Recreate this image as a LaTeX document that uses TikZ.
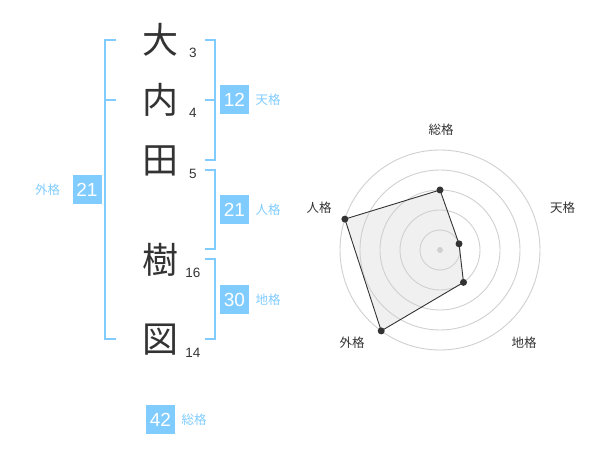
\documentclass[tikz,border=0pt]{standalone}
\usepackage{fontspec}
\setmainfont{Liberation Sans}
\newfontfamily\cjk{Noto Sans CJK JP}
\definecolor{kaku}{RGB}{128,204,255}
\definecolor{ink}{RGB}{51,51,51}
\definecolor{ring}{RGB}{208,208,208}
\definecolor{area}{RGB}{240,240,240}

\begin{document}
\begin{tikzpicture}[x=1pt,y=-1pt,line width=1.5pt,
 kanji/.style={font=\cjk\fontsize{36}{36}\selectfont,text=ink,inner sep=0pt},
 num/.style={font=\fontsize{13.5}{14}\selectfont,text=ink,inner sep=0pt},
 box/.style={fill=kaku,text=white,minimum size=29pt,inner sep=0pt,font=\fontsize{19}{19}\selectfont},
 lab/.style={font=\cjk\fontsize{12.5}{13}\selectfont,text=kaku,inner sep=0pt},
 axl/.style={font=\cjk\fontsize{12.5}{13}\selectfont,text=ink,inner sep=0pt}]
\useasboundingbox (0,0) rectangle (600,470);
\foreach \c/\n/\y [count=\i] in {大/3/40,内/4/100,田/5/161,樹/16/260,図/14/340}{
 \node[kanji] (k\i) at (160,\y) {\c};
 \node[num] (s\i) at (193,\y+13) {\n};};
\draw[color=kaku] (116,40)--(105,40)--(105,339)--(116,339) (105,100)--(116,100);
\draw[color=kaku] (205,40)--(215,40)--(215,160)--(205,160) (205,100)--(215,100);
\draw[color=kaku] (205,170)--(215,170)--(215,249)--(205,249);
\draw[color=kaku] (205,259)--(215,259)--(215,339)--(205,339);
\node[box] (gai) at (87,190) {21};
\node[lab,anchor=east] (gail) at ([xshift=-11pt]gai.west) {外格};
\node[box] (ten) at (234.5,100) {12};
\node[lab,anchor=west] (tenl) at ([xshift=5pt]ten.east) {天格};
\node[box] (jin) at (234.5,210) {21};
\node[lab,anchor=west] (jinl) at ([xshift=5pt]jin.east) {人格};
\node[box] (chi) at (234.5,300) {30};
\node[lab,anchor=west] (chil) at ([xshift=5pt]chi.east) {地格};
\node[box] (so) at (160.5,419.5) {42};
\node[lab,anchor=west] (sol) at ([xshift=5pt]so.east) {総格};
% radar
\coordinate (o) at (440,250);
\foreach \a/\r/\t/\lx/\ly [count=\i] in {-90/60/総格/441/130,-18/20/天格/562.5/208,54/40/地格/524/343,126/100/外格/352/343,198/100/人格/319/208}{
 \path (o) ++(\a:\r) coordinate (p\i);
 \node[axl] (a\i) at (\lx,\ly) {\t};};
\fill[area] (p1)--(p2)--(p3)--(p4)--(p5)--cycle;
\foreach \r in {20,40,60,80,100}{\draw[ring,line width=0.9pt] (o) circle[radius=\r pt];};
\fill[ring] (o) circle[radius=3pt];
\draw[ink,line width=0.9pt] (p1)--(p2)--(p3)--(p4)--(p5)--cycle;
\foreach \i in {1,...,5}{\fill[ink] (p\i) circle[radius=3.5pt];};
\end{tikzpicture}
\end{document}
